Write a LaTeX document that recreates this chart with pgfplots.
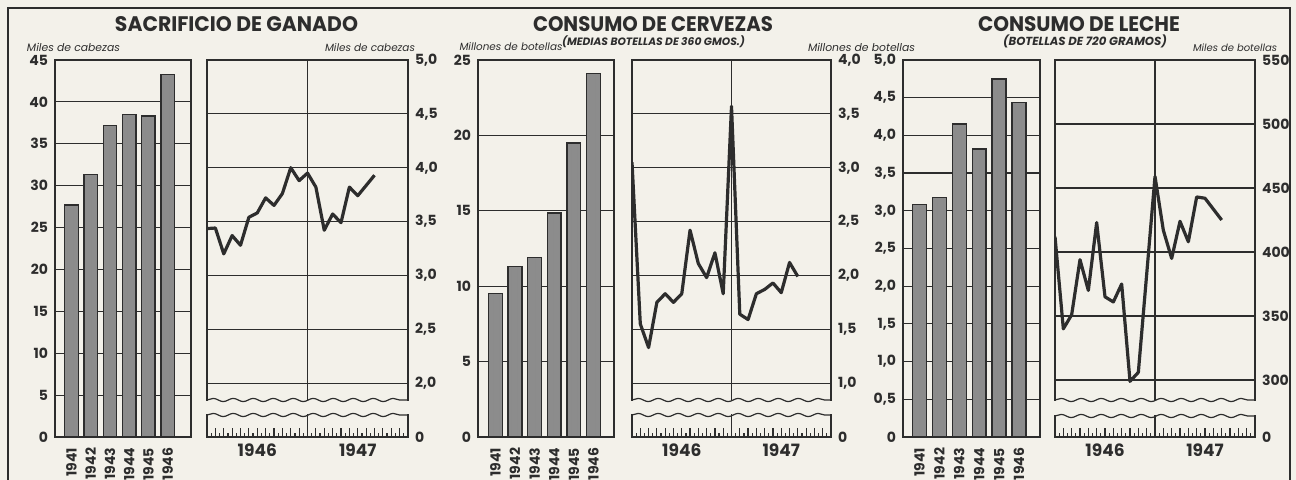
\documentclass[border=0pt]{standalone}
\usepackage{fontspec}
\setmainfont{Poppins}
\usepackage{graphicx}
\usepackage{pgfplots}
\pgfplotsset{compat=1.18}
\usetikzlibrary{patterns,decorations.pathmorphing}
\definecolor{ink}{RGB}{45,45,45}
\definecolor{paper}{RGB}{243,241,234}
\definecolor{barfill}{RGB}{140,140,140}
\newcommand\tickf{\fontsize{7}{8}\selectfont}
\pgfplotsset{
  panel/.style={scale only axis, anchor=south west, height=188.5pt,
    axis line style={draw=ink, line width=0.7pt},
    ymajorgrids, grid style={draw=ink, line width=0.6pt},
    tick style={draw=ink, line width=0.6pt},
    tick align=inside,
    tick label style={font=\tickf, text=ink},
    /pgf/number format/assume math mode=true,
  },
  barpanel/.style={panel, ybar, bar width=0.7, ymin=0, xtick=data,
    ytick pos=left, xtick pos=left, xtick style={draw=none},
    xticklabels={1941,1942,1943,1944,1945,1946},
    xticklabel style={rotate=90, anchor=east, inner sep=1pt, font=\tickf\bfseries},
    yticklabel style={font=\tickf\bfseries}},
  linepanel/.style={panel, xmin=0, xmax=24, xtick={0,...,24}, minor x tick num=1,
    xtick pos=left, ytick pos=right, major tick length=4.5pt, minor tick length=2.2pt,
    xticklabels={,,,,,,1946,,,,,,,,,,,,1947},
    xticklabel style={font=\fontsize{8.5}{9}\selectfont\bfseries},
    yticklabel style={font=\tickf\bfseries}},
  barstyle/.style={fill=barfill, draw=ink, line width=0.7pt,
    postaction={pattern=vertical lines, pattern color=ink!55}},
  linestyle/.style={ink, line width=1.6pt, line join=round},
}
\tikzset{wavy/.style={draw=ink, line width=0.6pt, decorate,
  decoration={snake, amplitude=0.8pt, segment length=10pt}}}
\begin{document}
\begin{tikzpicture}
\fill[paper] (0,0) rectangle (648pt,240pt);
\path[use as bounding box] (0,0) rectangle (648pt,240pt);
\draw[ink, line width=1.2pt] (4pt,0) -- (4pt,236pt) -- (645pt,236pt) -- (645pt,0);

% titles
\node[text=ink, font=\bfseries] at (118.25pt,227.75pt) {\resizebox{121.5pt}{7.5pt}{SACRIFICIO DE GANADO}};
\node[text=ink, font=\bfseries] at (326.5pt,227.75pt) {\resizebox{120pt}{7.5pt}{CONSUMO DE CERVEZAS}};
\node[text=ink, font=\bfseries] at (539.5pt,227.75pt) {\resizebox{101pt}{7.5pt}{CONSUMO DE LECHE}};
\node[text=ink, font=\itshape\bfseries] at (326.75pt,219.25pt) {\resizebox{91.5pt}{!}{(MEDIAS BOTELLAS DE 360 GMOS.)}};
\node[text=ink, font=\itshape\bfseries] at (542.5pt,219.25pt) {\resizebox{82pt}{!}{(BOTELLAS DE 720 GRAMOS)}};
\node[text=ink, font=\itshape] at (36.75pt,216.25pt) {\resizebox{46.5pt}{!}{Miles de cabezas}};
\node[text=ink, font=\itshape] at (185pt,216.25pt) {\resizebox{45pt}{!}{Miles de cabezas}};
\node[text=ink, font=\itshape] at (255.5pt,216.5pt) {\resizebox{51.5pt}{!}{Millones de botellas}};
\node[text=ink, font=\itshape] at (430.75pt,216.5pt) {\resizebox{53.5pt}{!}{Millones de botellas}};
\node[text=ink, font=\itshape] at (617.5pt,216.25pt) {\resizebox{42pt}{!}{Miles de botellas}};

% Panel 1: bars
\begin{axis}[barpanel, at={(27.5pt,21.5pt)}, width=68pt, xmin=-0.86, xmax=6.22,
  ymax=45, ytick={0,5,10,15,20,25,30,35,40,45}]
\addplot[barstyle] coordinates {(0,27.7) (1,31.3) (2,37.2) (3,38.5) (4,38.3) (5,43.3)};
\end{axis}

% Panel 2: line
\begin{axis}[linepanel, at={(103.5pt,21.5pt)}, width=100.5pt, ymin=1.5, ymax=5,
  ytick={1.5,2,2.5,3,3.5,4,4.5,5},
  yticklabels={0,{2,0},{2,5},{3,0},{3,5},{4,0},{4,5},{5,0}}]
\draw[ink, line width=0.6pt] (axis cs:12,1.5) -- (axis cs:12,5);
\addplot[linestyle] coordinates {(0,3.435) (1,3.44) (2,3.20) (3,3.37) (4,3.28) (5,3.54) (6,3.58) (7,3.72) (8,3.65) (9,3.76) (10,4.00) (11,3.88) (12,3.95) (13,3.82) (14,3.42) (15,3.57) (16,3.49) (17,3.82) (18,3.74) (20,3.93)};
\end{axis}
\fill[paper] (102.5pt,33.2pt) rectangle (205pt,39.3pt);
\draw[wavy] (103.5pt,40pt) -- (204pt,40pt);
\draw[wavy] (103.5pt,32.5pt) -- (204pt,32.5pt);

% Panel 3: bars
\begin{axis}[barpanel, at={(239pt,21.5pt)}, width=68pt, xmin=-0.89, xmax=6.05,
  ymax=25, ytick={0,5,10,15,20,25}]
\addplot[barstyle] coordinates {(0,9.5) (1,11.3) (2,11.9) (3,14.85) (4,19.5) (5,24.1)};
\end{axis}

% Panel 4: line
\begin{axis}[linepanel, at={(316pt,21.5pt)}, width=99.5pt, ymin=0.5, ymax=4,
  ytick={0.5,1,1.5,2,2.5,3,3.5,4},
  yticklabels={0,{1,0},{1,5},{2,0},{2,5},{3,0},{3,5},{4,0}}]
\draw[ink, line width=0.6pt] (axis cs:12,0.5) -- (axis cs:12,4);
\addplot[linestyle] coordinates {(0,3.05) (1,1.55) (2,1.33) (3,1.75) (4,1.83) (5,1.75) (6,1.83) (7,2.42) (8,2.11) (9,1.98) (10,2.21) (11,1.83) (12,3.57) (13,1.64) (14,1.59) (15,1.83) (16,1.87) (17,1.93) (18,1.84) (19,2.12) (20,1.99)};
\end{axis}
\fill[paper] (315pt,33.2pt) rectangle (416.5pt,39.3pt);
\draw[wavy] (316pt,40pt) -- (415.5pt,40pt);
\draw[wavy] (316pt,32.5pt) -- (415.5pt,32.5pt);

% Panel 5: bars
\begin{axis}[barpanel, at={(451.5pt,21.5pt)}, width=68.5pt, xmin=-0.83, xmax=6.06,
  ymax=5, ytick={0,0.5,1,1.5,2,2.5,3,3.5,4,4.5,5},
  yticklabels={0,{0,5},{1,0},{1,5},{2,0},{2,5},{3,0},{3,5},{4,0},{4,5},{5,0}}]
\addplot[barstyle] coordinates {(0,3.08) (1,3.18) (2,4.15) (3,3.82) (4,4.75) (5,4.44)};
\end{axis}

% Panel 6: line
\begin{axis}[linepanel, at={(527.5pt,21.5pt)}, width=100pt, ymin=255.5, ymax=550,
  ytick={255.5,300,350,400,450,500,550},
  yticklabels={0,300,350,400,450,500,550}]
\draw[ink, line width=0.6pt] (axis cs:12,255.5) -- (axis cs:12,550);
\addplot[linestyle] coordinates {(0,412) (1,340) (2,351) (3,394) (4,370) (5,423) (6,365) (7,361) (8,375) (9,299) (10,306) (12,459) (13,417) (14,395) (15,424) (16,408) (17,443) (18,442) (20,425)};
\end{axis}
\fill[paper] (526.5pt,32.7pt) rectangle (628.5pt,39.3pt);
\draw[wavy] (527.5pt,40pt) -- (627.5pt,40pt);
\draw[wavy] (527.5pt,32pt) -- (627.5pt,32pt);
\end{tikzpicture}
\end{document}
